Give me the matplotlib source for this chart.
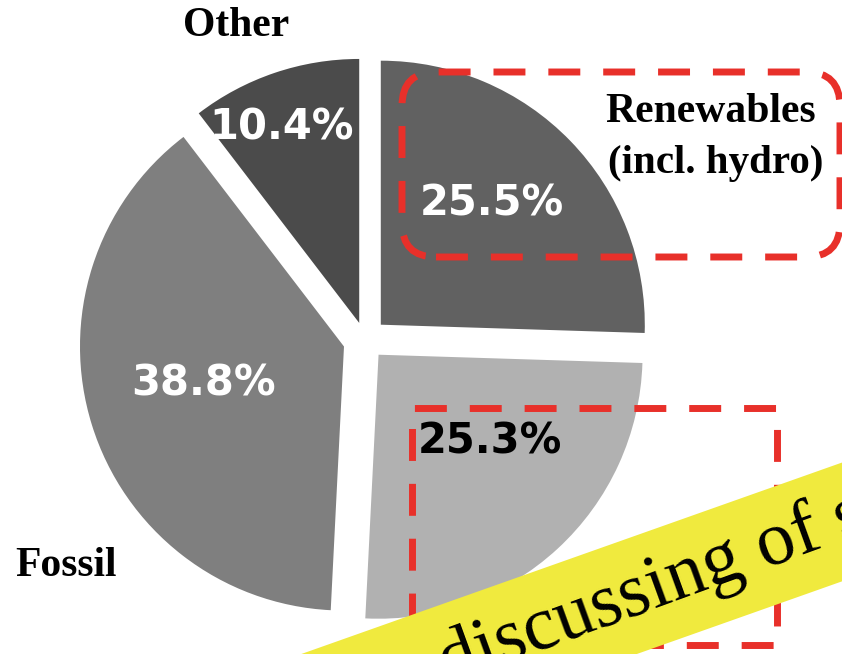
import matplotlib
matplotlib.use('Agg')
import matplotlib.pyplot as plt
from matplotlib.patches import FancyBboxPatch, Rectangle

# Shares of the pie, clockwise from the top
sources = ['Renewables (incl. hydro)', 'Nuclear', 'Fossil', 'Other']
shares = [25.5, 25.3, 38.8, 10.4]
colors = ['#616161', '#b1b1b1', '#7f7f7f', '#4b4b4b']
pct_colors = ['white', 'black', 'white', 'white']

W, H = 842, 654
CX, CY, R = 365, 340, 264   # pie centre / radius in image pixels


# image pixels -> pie units
def px(x, y):
    return (x - CX) / R, (CY - y) / R


fig = plt.figure(figsize=(W / 100, H / 100), dpi=100)
ax = fig.add_axes([0, 0, 1, 1])
x0, y0 = px(0, H)
x1, y1 = px(W, 0)

explode = [22 / R, 20 / R, 22 / R, 18 / R]
ax.pie(shares, colors=colors, startangle=90, counterclock=False,
       explode=explode, radius=1, center=(0, 0), frame=True)
ax.set_xlim(x0, x1)
ax.set_ylim(y0, y1)
ax.set_aspect('equal')
ax.axis('off')

# percentage labels
pct_pos = [(492, 203), (490, 442), (204, 383), (282, 127)]
for s, pos, c in zip(shares, pct_pos, pct_colors):
    ax.text(*px(*pos), '%.1f%%' % s, color=c, fontsize=30, fontweight='bold',
            family='DejaVu Sans', ha='center', va='center', zorder=5)

# category labels
serif = 'Liberation Serif'
ax.text(*px(236, 26), 'Other', fontsize=30, fontweight='bold', family=serif,
        ha='center', va='center')
ax.text(*px(66, 566), 'Fossil', fontsize=30, fontweight='bold', family=serif,
        ha='center', va='center')
ax.text(*px(711, 112), 'Renewables', fontsize=30, fontweight='bold', family=serif,
        ha='center', va='center', zorder=5)
ax.text(*px(716, 163), '(incl. hydro)', fontsize=29.5, fontweight='bold', family=serif,
        ha='center', va='center', zorder=5)

# red dashed highlight boxes
red = '#e8302a'
dash = (0, (4.6, 3.3))
bx, by = px(402, 257)
box1 = FancyBboxPatch((bx, by), (840 - 402) / R, (257 - 72) / R,
                      boxstyle='round,pad=0,rounding_size=%f' % (34 / R),
                      fill=False, edgecolor=red, linewidth=5, linestyle=dash,
                      zorder=4, clip_on=False)
ax.add_patch(box1)
bx, by = px(412, 645)
box2 = Rectangle((bx, by), (777 - 412) / R, (645 - 408) / R,
                 fill=False, edgecolor=red, linewidth=5, linestyle=dash,
                 zorder=4, joinstyle='miter')
ax.add_patch(box2)

# yellow banner across the bottom right
angle = 19.5
bx, by = px(250, H + 137)
banner = Rectangle((bx, by), 800 / R, 112 / R, angle=angle,
                   facecolor='#f0ea3e', edgecolor='none', zorder=6)
ax.add_patch(banner)
ax.text(*px(448, 684), 'discussing of s', fontsize=55, family=serif,
        rotation=angle + 0.5, rotation_mode='anchor', ha='left', va='baseline',
        color='black', zorder=7, clip_on=True)

fig.savefig('out.png', dpi=100)
